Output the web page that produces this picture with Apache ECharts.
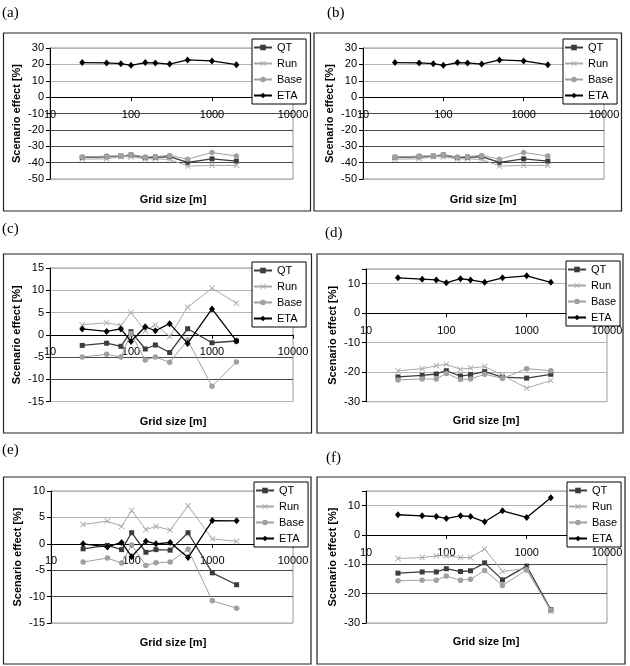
<!DOCTYPE html>
<html><head><meta charset="utf-8">
<script src="https://cdn.jsdelivr.net/npm/echarts@6/dist/echarts.min.js"></script>
<style>html,body{margin:0;padding:0;background:#fff}#c{width:630px;height:666px}</style>
</head><body><div id="c"></div><script>
// ---- data ----
const gridSizes = [25, 50, 75, 100, 150, 200, 300, 500, 1000, 2000];
const seriesNames = ['QT', 'Run', 'Base', 'ETA'];
const panelLabels = ['(a)', '(b)', '(c)', '(d)', '(e)', '(f)'];
const xTickValues = [10, 100, 1000, 10000];

// panel (a)
const aQT   = [-36.8, -36.4, -36.0, -35.4, -37.0, -36.8, -36.4, -39.9, -37.7, -39.1];
const aRun  = [-37.9, -37.7, -36.4, -36.6, -37.7, -37.7, -38.1, -42.1, -41.7, -41.7];
const aBase = [-36.6, -36.0, -36.0, -35.0, -36.6, -36.2, -35.6, -37.9, -33.8, -36.0];
const aETA  = [21.1, 20.9, 20.4, 19.4, 21.1, 20.9, 20.2, 22.7, 22.1, 19.8];
// panel (b)
const bQT   = [-36.8, -36.4, -36.0, -35.4, -37.0, -36.8, -36.4, -39.9, -37.7, -39.1];
const bRun  = [-37.9, -37.7, -36.4, -36.6, -37.7, -37.7, -38.1, -42.1, -41.7, -41.7];
const bBase = [-36.6, -36.0, -36.0, -35.0, -36.6, -36.2, -35.6, -37.9, -33.8, -36.0];
const bETA  = [21.1, 20.9, 20.4, 19.4, 21.1, 20.9, 20.2, 22.7, 22.1, 19.8];
// panel (c)
const cQT   = [-2.4, -1.9, -2.6, 0.7, -3.2, -2.3, -4.0, 1.35, -1.8, -1.4];
const cRun  = [2.25, 2.7, 2.1, 5.0, 0.9, 2.25, -0.4, 6.2, 10.45, 7.1];
const cBase = [-5.0, -4.4, -5.0, 0.3, -5.7, -5.0, -6.2, -1.2, -11.6, -6.1];
const cETA  = [1.3, 0.75, 1.3, -1.5, 1.8, 0.9, 2.5, -1.95, 5.8, -1.4];
// panel (d)
const dQT   = [-21.6, -21.1, -20.6, -19.5, -21.3, -20.8, -19.8, -21.7, -22.0, -20.7];
const dRun  = [-19.5, -18.8, -17.8, -17.3, -19.0, -18.6, -18.1, -21.0, -25.4, -22.8];
const dBase = [-22.6, -22.3, -22.3, -20.4, -22.5, -22.3, -20.7, -22.1, -18.8, -19.5];
const dETA  = [12.0, 11.55, 11.3, 10.3, 11.7, 11.3, 10.5, 12.0, 12.7, 10.5];
// panel (e)
const eQT   = [-0.95, -0.3, -1.1, 2.1, -1.6, -1.1, -1.2, 2.1, -5.5, -7.75];
const eRun  = [3.65, 4.3, 3.3, 6.3, 2.7, 3.3, 2.6, 7.2, 0.95, 0.45];
const eBase = [-3.45, -2.7, -3.65, -0.25, -4.1, -3.6, -3.45, -1.05, -10.8, -12.2];
const eETA  = [0.0, -0.6, 0.25, -2.45, 0.5, 0.0, 0.25, -2.6, 4.4, 4.35];
// panel (f)
const fQT   = [-13.0, -12.6, -12.6, -11.5, -12.45, -12.2, -9.5, -15.3, -10.6, -25.5];
const fRun  = [-8.0, -7.7, -7.1, -7.1, -7.7, -7.7, -4.75, -12.45, -11.4, -25.9];
const fBase = [-15.6, -15.4, -15.4, -14.0, -15.4, -15.1, -12.1, -17.2, -11.9, -25.7];
const fETA  = [6.9, 6.55, 6.3, 5.65, 6.55, 6.3, 4.5, 8.25, 6.0, 12.7];

const yMins = [-50, -50, -15, -30, -15, -30];
const yMaxs = [30, 30, 15, 15, 10, 15];
const yIntervals = [10, 10, 5, 10, 5, 10];

const panelData = [
  [aQT, aRun, aBase, aETA], [bQT, bRun, bBase, bETA],
  [cQT, cRun, cBase, cETA], [dQT, dRun, dBase, dETA],
  [eQT, eRun, eBase, eETA], [fQT, fRun, fBase, fETA]
];

// ---- layout / style ----
const grids = [
  {left: 50, top: 48, width: 243, height: 131},
  {left: 363, top: 48, width: 241, height: 131},
  {left: 50, top: 268, width: 243, height: 133.5},
  {left: 366, top: 269, width: 241, height: 132.7},
  {left: 51, top: 491, width: 242, height: 132},
  {left: 366, top: 491, width: 241, height: 132}
];
const boxes = [
  [3.5, 33, 307, 178], [314, 33, 307.5, 178],
  [3.5, 254, 308, 179], [317, 254, 306, 179],
  [3.5, 477, 307.5, 187], [317, 477, 308, 187]
];
const labelPos = [[2, 13], [327, 13], [2, 229], [325, 233], [2, 450], [326, 458]];
const xTitlePos = [[173, 200], [483, 200], [173, 422], [486, 421], [173, 643], [486, 642]];
const legendPos = [[252, 39], [563, 39], [252, 262], [566, 261], [254, 482], [567, 482]];
const D = '#4a4a4a', L = '#b4b4b4';
const splitColors = [
  [L, D, D, D, D, D, L, L, L],
  [L, D, D, D, D, D, L, L, L],
  [L, D, D, D, L, L, L],
  [L, L, L, D, L, L],
  [L, D, D, D, L, L],
  [L, D, D, D, L, L]
];

const FONT = 'Liberation Sans, Arial, sans-serif';
const XPATH = 'path://M0,1 L1,0 L5,4 L9,0 L10,1 L6,5 L10,9 L9,10 L5,6 L1,10 L0,9 L4,5 Z';
const styles = {
  QT:   {symbol: 'rect', symbolSize: 5, color: '#3c3c3c', width: 1.3},
  Run:  {symbol: XPATH, symbolSize: 6, color: '#a8a8a8', width: 1},
  Base: {symbol: 'circle', symbolSize: 5.5, color: '#a0a0a0', width: 1},
  ETA:  {symbol: 'diamond', symbolSize: [6, 7], color: '#000', width: 1.3}
};

const option = {
  animation: false,
  backgroundColor: '#fff',
  grid: grids.map(g => Object.assign({show: true, borderColor: '#999', borderWidth: 1, backgroundColor: 'transparent'}, g)),
  xAxis: grids.map((g, i) => ({
    type: 'log', gridIndex: i, logBase: 10, min: 10, max: 10000,
    position: 'bottom',
    // place the axis at y = 0 (Excel-style crossing)
    offset: -g.height * (0 - yMins[i]) / (yMaxs[i] - yMins[i]),
    axisLine: {onZero: false, lineStyle: {color: '#000', width: 1}},
    axisTick: {show: true, length: 4, lineStyle: {color: '#000'}},
    axisLabel: {margin: 12, color: '#000', fontFamily: FONT, fontSize: 11,
      formatter: v => String(Math.round(v))},
    splitLine: {show: false}, minorTick: {show: false}
  })),
  yAxis: grids.map((g, i) => ({
    type: 'value', gridIndex: i, min: yMins[i], max: yMaxs[i], interval: yIntervals[i],
    name: 'Scenario effect [%]', nameLocation: 'middle', nameGap: 28,
    nameTextStyle: {fontFamily: FONT, fontSize: 11, fontWeight: 'bold', color: '#000'},
    axisLine: {show: true, onZero: false, lineStyle: {color: '#000', width: 1}},
    axisTick: {show: true, length: 4, lineStyle: {color: '#000'}},
    axisLabel: {margin: 6, color: '#000', fontFamily: FONT, fontSize: 11,
      formatter: v => (v === yMaxs[i] && (v - yMins[i]) % yIntervals[i] !== 0) ? '' : String(v)},
    splitLine: {show: true, lineStyle: {color: splitColors[i], width: 1}}
  })),
  legend: grids.map((g, i) => ({
    orient: 'vertical', left: legendPos[i][0], top: legendPos[i][1],
    data: seriesNames, itemWidth: 18, itemHeight: 7, itemGap: 3,
    padding: [2, 4, 2, 1], borderColor: '#000', borderWidth: 1, backgroundColor: '#fff',
    textStyle: {fontFamily: FONT, fontSize: 11, color: '#000', lineHeight: 13},
    selectedMode: false
  })),
  series: [],
  graphic: []
};

panelData.forEach((arrs, i) => {
  arrs.forEach((vals, k) => {
    const nm = seriesNames[k], st = styles[nm];
    option.series.push({
      type: 'line', name: nm, xAxisIndex: i, yAxisIndex: i,
      data: gridSizes.map((x, j) => [x, vals[j]]),
      symbol: st.symbol, symbolSize: st.symbolSize, showSymbol: true,
      itemStyle: {color: st.color},
      lineStyle: {color: st.color, width: st.width},
      z: 3 + k
    });
  });
  const b = boxes[i];
  option.graphic.push({type: 'rect', shape: {x: b[0], y: b[1], width: b[2], height: b[3]},
    style: {fill: 'none', stroke: '#222', lineWidth: 1.2}, z: 0, silent: true});
  option.graphic.push({type: 'text', x: labelPos[i][0], y: labelPos[i][1],
    style: {text: panelLabels[i], font: '15px "Liberation Serif", serif', fill: '#000', textVerticalAlign: 'middle'}});
  option.graphic.push({type: 'text', x: xTitlePos[i][0], y: xTitlePos[i][1],
    style: {text: 'Grid size [m]', font: 'bold 11px "Liberation Sans", Arial, sans-serif', fill: '#000',
      textAlign: 'center', textVerticalAlign: 'middle'}});
});

const chart = echarts.init(document.getElementById('c'), null, {renderer: 'canvas'});
chart.setOption(option);
</script></body></html>
